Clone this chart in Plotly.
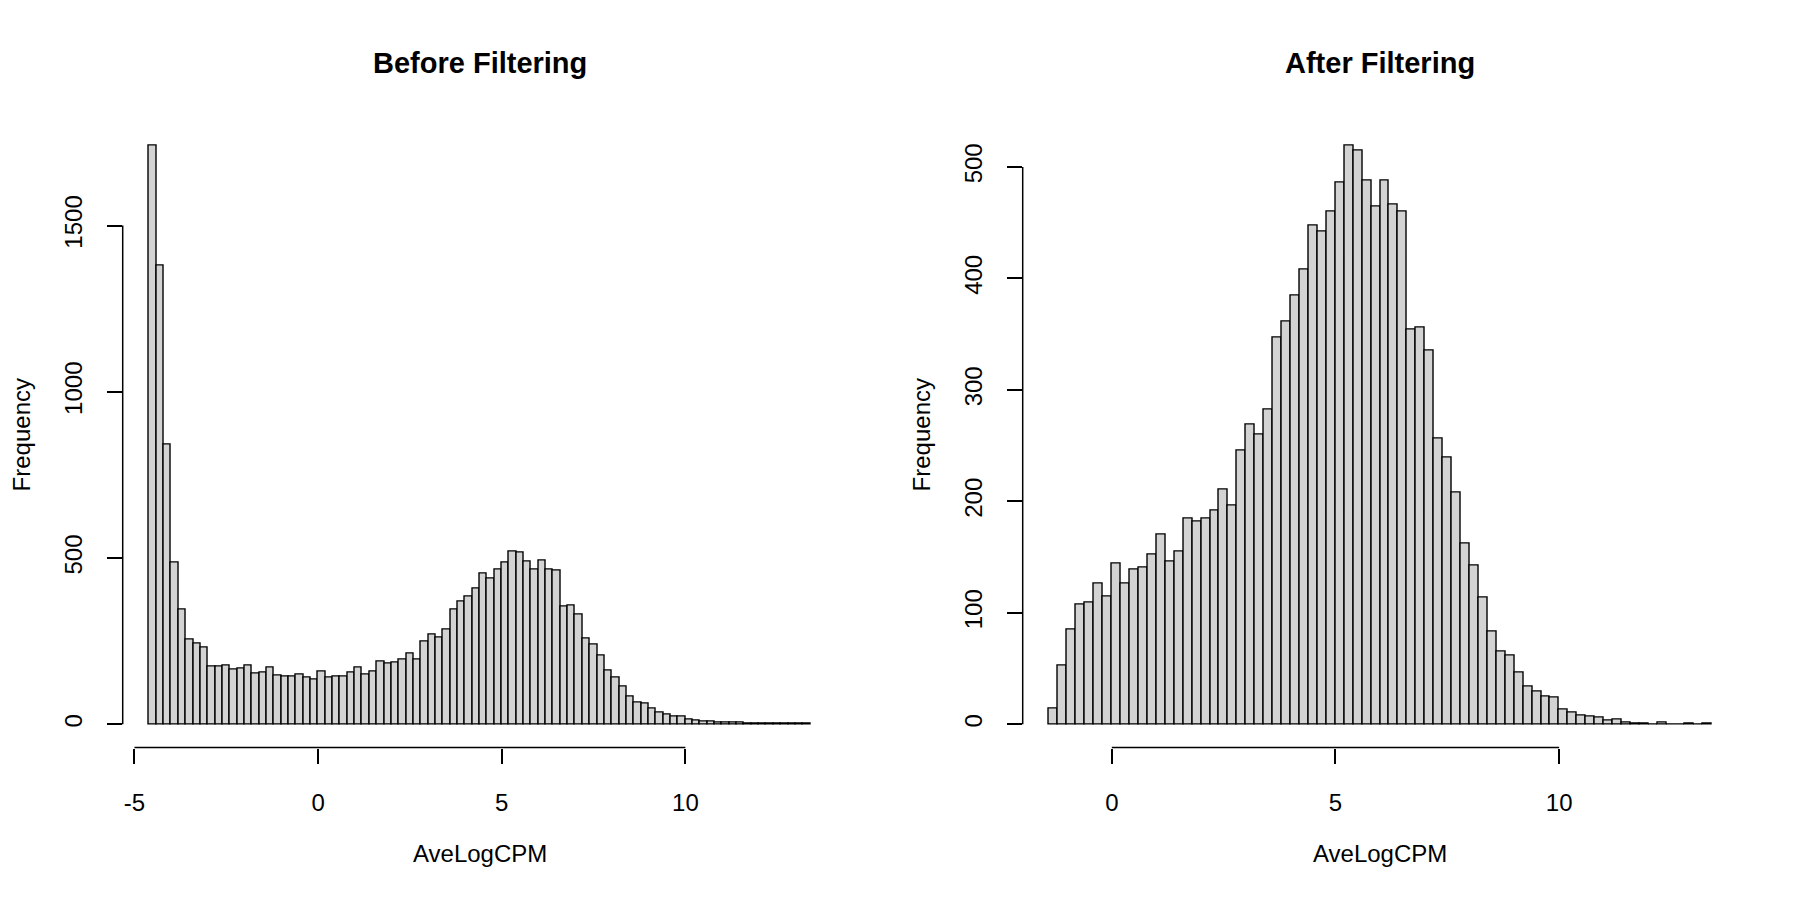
import plotly.graph_objs as go

# histogram counts (bin width 0.2)
bin_width = 0.2
before_start = -4.6
before_counts = [1740, 1380, 840, 486, 345, 256, 242, 232, 175, 175,
                 178, 164, 168, 178, 154, 156, 172, 148, 143, 144,
                 151, 142, 136, 158, 141, 144, 144, 156, 172, 149,
                 159, 189, 184, 185, 194, 213, 195, 249, 269, 262,
                 285, 346, 368, 383, 407, 453, 439, 464, 486, 520,
                 516, 490, 464, 491, 465, 462, 353, 358, 331, 258,
                 239, 208, 162, 142, 114, 83, 64, 63, 46, 35,
                 30, 24, 24, 13, 11, 8, 7, 6, 6, 4,
                 6, 3, 2, 1, 3, 1, 1, 2, 1, 2]
after_start = -1.4
after_counts = [14, 53, 85, 107, 109, 126, 115, 144, 126, 139,
                141, 152, 170, 146, 155, 185, 182, 185, 192, 211,
                196, 246, 269, 260, 282, 347, 361, 385, 408, 447,
                442, 460, 486, 519, 515, 488, 464, 488, 466, 460,
                354, 356, 335, 256, 239, 208, 162, 142, 114, 83,
                65, 62, 46, 34, 29, 25, 24, 13, 11, 8,
                7, 6, 3, 4, 2, 1, 1, 0, 2, 0,
                0, 1, 0, 1]

before_xticks = [-5, 0, 5, 10]
before_yticks = [0, 500, 1000, 1500]
after_xticks = [0, 5, 10]
after_yticks = [0, 100, 200, 300, 400, 500]

titles = ["Before Filtering", "After Filtering"]
xlab = "AveLogCPM"
ylab = "Frequency"

FONT = "Liberation Sans, Arial, Helvetica, sans-serif"

fig = go.Figure()

panels = [
    (before_start, before_counts, before_xticks, before_yticks, [0.06817, 0.46483], ""),
    (after_start, after_counts, after_xticks, after_yticks, [0.56817, 0.96539], "2"),
]

for start, counts, xt, yt, dom, n in panels:
    centers = [start + bin_width * (i + 0.5) for i in range(len(counts))]
    fig.add_trace(go.Bar(
        x=centers, y=counts, width=bin_width,
        marker=dict(color="#d3d3d3", line=dict(color="black", width=1.4)),
        xaxis="x" + n, yaxis="y" + n, showlegend=False, hoverinfo="x+y",
    ))

    # R style ranges: data range padded by 4% each side
    lo = start
    hi = start + bin_width * len(counts)
    pad = 0.04 * (hi - lo)
    ymax = max(counts)

    axis = dict(showgrid=False, zeroline=False, showline=False,
                ticks="outside", ticklen=15, tickwidth=1.5, tickcolor="black",
                tickfont=dict(family=FONT, size=24, color="black"))
    fig.update_layout({
        "xaxis" + n: dict(axis, domain=dom, anchor="y" + n,
                          range=[lo - pad, hi + pad],
                          tickvals=xt, ticktext=[str(v) for v in xt],
                          ticklabelstandoff=19),
        "yaxis" + n: dict(axis, domain=[0.16944, 0.86378], anchor="x" + n,
                          range=[-0.04 * ymax, 1.04 * ymax],
                          tickvals=yt, ticktext=[str(v) for v in yt],
                          tickangle=-90, ticklabelstandoff=15),
    })

    # axis lines only from first to last tick, like base R
    fig.add_shape(type="line", xref="x" + n, yref="y" + n + " domain",
                  x0=xt[0], x1=xt[-1], y0=0, y1=0,
                  line=dict(color="black", width=1.5))
    fig.add_shape(type="line", xref="x" + n + " domain", yref="y" + n,
                  x0=0, x1=0, y0=yt[0], y1=yt[-1],
                  line=dict(color="black", width=1.5))

# titles and axis labels
for k, dom in enumerate([[0.06817, 0.46483], [0.56817, 0.96539]]):
    mid = (dom[0] + dom[1]) / 2
    fig.add_annotation(text="<b>" + titles[k] + "</b>", x=mid, y=0.9297,
                       xref="paper", yref="paper", showarrow=False,
                       xanchor="center", yanchor="middle",
                       font=dict(family=FONT, size=29, color="black"))
    fig.add_annotation(text=xlab, x=mid, y=0.0518,
                       xref="paper", yref="paper", showarrow=False,
                       xanchor="center", yanchor="middle",
                       font=dict(family=FONT, size=24, color="black"))
    fig.add_annotation(text=ylab, x=dom[0] - 0.0563, y=(0.16944 + 0.86378) / 2,
                       xref="paper", yref="paper", showarrow=False, textangle=-90,
                       xanchor="center", yanchor="middle",
                       font=dict(family=FONT, size=24, color="black"))

fig.update_layout(
    width=1800, height=900,
    margin=dict(l=0, r=0, t=0, b=0),
    paper_bgcolor="white", plot_bgcolor="white",
    bargap=0,
    font=dict(family=FONT, size=24, color="black"),
)

# drop the default page margin so the figure sits at the window corner
fig.write_html("out.html", config={"displayModeBar": False},
               post_script="document.body.style.margin = '0';")
